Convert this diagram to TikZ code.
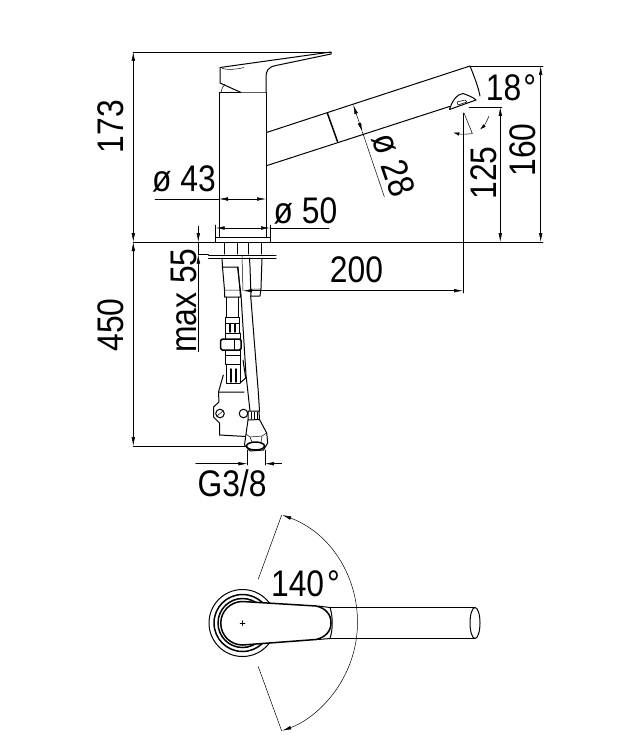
\documentclass[tikz,border=0pt]{standalone}
\usepackage{fontspec}
\setmainfont[FakeStretch=0.86]{Liberation Sans}
\usetikzlibrary{arrows.meta}

\begin{document}
\begin{tikzpicture} [
						x=1pt, y=-1pt,
						line cap=round, line join=round,
						dimline/.style={line width=0.5pt, {Latex[length=9pt,width=3.6pt]}-{Latex[length=9pt,width=3.6pt]}},
						oneway/.style={line width=0.5pt, -{Latex[length=9pt,width=3.6pt]}},
						shortway/.style={line width=0.5pt, -{Latex[length=6pt,width=3.4pt]}},
						extline/.style={line width=0.5pt},
						outline/.style={line width=1pt},
						heavy/.style={line width=1.5pt},
						dimtext/.style={inner sep=0pt, font=\fontsize{37}{38}\selectfont}
					]
\useasboundingbox (0,0) rectangle (626,751);

% faucet body and lever
\draw[outline] (219,93) rectangle (266,237);
\draw[outline] (215,237) rectangle (270,242);
\draw[outline, fill=white] (241,92.5) -- (220,83) -- (220,67.5) -- (331,52) -- (331,54) -- (276,65.5)
	.. controls (268,67) and (266,71) .. (266,77) -- (266,92.5);
\draw[extline] (221,92.5) .. controls (222,88) and (223,86) .. (225,84);
\draw[extline] (222,68.5) .. controls (229,70) and (236,69.5) .. (244,67.5);

% spout
\draw[outline] (266.5,132.5) -- (470,66) .. controls (474,76) and (478,86) .. (480,96);
\draw[outline] (266.5,165.7) -- (449.5,106.5);
\draw[heavy] (327.5,113.5) -- (337.5,141.5);
\draw[outline] (449.5,109.5) .. controls (452,101) and (457,94) .. (463,93.5)
	.. controls (467,95) and (473,97) .. (476,100) -- (449.5,109.5);
\draw[extline] (458,105) -- (457,102) -- (465,100) -- (467,102) -- cycle;

% fittings under the flange
\draw[outline] (224.5,243) -- (224.5,254) (237.5,243) -- (237.5,254)
	(248,243) -- (248,254) (261,243) -- (261,254);
\draw[outline] (208.5,255.5) -- (276,255.5) (208.5,258) -- (276,258);
\draw[outline] (222,258) -- (222.5,267) -- (224.5,290) -- (224.5,297) -- (240.5,297) -- (238,267) -- (222,267);
\draw[outline] (249.5,258) -- (250,267) -- (251,296) -- (260,296) -- (261,288) -- (262,258);
\draw[extline] (224.5,290) -- (239.5,290) (251,289) -- (261,289) (242,256) -- (243,291);
\draw[outline] (226.7,297) -- (226.7,317) (238.3,297) -- (238.3,317);
\draw[outline] (225.7,317) rectangle (239.3,333);
\draw[extline] (225.7,323) -- (239.3,323);
\draw[heavy] (230,324) -- (230,332) (235,324) -- (235,332);
\draw[outline] (225.7,333) -- (225.7,339) (240,333) -- (240,339);
\draw[heavy, rounded corners=1.5pt, fill=white] (220.7,339) rectangle (241,350);
\draw[outline] (234,339) -- (234,350);
\draw[outline] (225.7,350) -- (225.7,364) -- (240.7,364) -- (240.7,350);
\draw[outline] (225.7,355) -- (240.7,355);
\draw[outline] (226.7,364) -- (226.7,383) (240,364) -- (240,383) (226.7,383) -- (240,383);
\draw[heavy] (231,369) -- (231,382) (236,369) -- (236,382);
\draw[outline] (223.3,375) -- (218.5,392);
\draw[outline] (243,360) -- (245.7,378) -- (240,383);

% hose
\draw[outline] (237.5,267) -- (241,295) -- (246,375) -- (250,411);
\draw[outline] (250.7,296) -- (258.3,392) -- (259.5,411);

% bracket with screws
\draw[outline, fill=white] (244,392) -- (218.5,392) -- (219,402) -- (213.5,407) -- (213.5,417) -- (219.5,423) -- (219.5,435) -- (246,436.5);
\draw[outline] (220,413.5) circle (4.3);
\draw[extline] (217,416) -- (223,411);
\draw[outline] (243.5,413.5) circle (4.3);

% hose nut
\draw[outline, fill=white] (248,420) -- (248,411) -- (259,411) -- (259.5,420);
\draw[extline] (251,412) -- (251,419) (254,412) -- (254,419) (257,412) -- (257,419);
\draw[outline, fill=white] (248,420) -- (259.5,419.5) -- (266.7,433) -- (267.7,443) -- (263.5,450) -- (250,451) -- (244.5,445) -- (246,434) -- cycle;
\draw[extline] (246,434) -- (250,437) -- (262,436) -- (266.7,433) (250,437) -- (252,442) (262,436) -- (261,442);
\draw[heavy] (255.5,446) ellipse (9 and 4);

% top view
\draw[outline] (242.5,623) circle (33.5);
\draw[heavy] (242.5,623) circle (28.5);
\draw[heavy] (242.5,623) circle (24.5);
\draw[outline] (330,607.5) -- (475,607.5) (330,638.5) -- (475,638.5);
\draw[outline] (475,623) ellipse (5 and 15.5);
\draw[outline] (318,606) -- (330,607.5) .. controls (333,617) and (333,629) .. (330,638.5) -- (318,639.5);
\draw[heavy, fill=white] (242.5,601.5) -- (316,606)
	.. controls (326,608) and (331,615) .. (331,622.5)
	.. controls (331,631) and (326,637) .. (316,639.5) -- (242.5,645)
	arc[start angle=270, end angle=90, x radius=21.75, y radius=-21.75];
\draw[extline] (240,623) -- (245,623) (242.5,620.5) -- (242.5,625.5);

% dimension points
\coordinate (top left) at (133,52);
\coordinate (top right) at (331,52);
\coordinate (base left) at (133,242);
\coordinate (base right) at (543,242);
\coordinate (low left) at (133,446);
\coordinate (tip) at (470,66);
\coordinate (tip right) at (543,66);

\draw[extline] (top left) -- (top right);
\draw[extline] (base left) -- (base right);
\draw[extline] (low left) -- (245,446);
\draw[extline] (tip) -- (tip right);
\draw[dimline] (133.3,52) -- (133.3,242);
\draw[dimline] (133.3,242) -- (133.3,446);
\draw[dimline] (540.7,66) -- (540.7,242);
\draw[extline] (469,107) -- (502,107);
\draw[dimline] (500.3,107) -- (500.3,242);

% diameters
\draw[dimline] (219,199) -- (266,199);
\draw[extline] (155,199) -- (219,199);
\draw[extline] (215.7,225) -- (215.7,237) (270,225) -- (270,237);
\draw[dimline] (215.7,228) -- (270,228);
\draw[extline] (270,228) -- (329,228);
\draw[dimline] (353.3,105) -- (362.3,131.7);
\draw[extline] (362.3,131.7) -- (384.3,196.7);

% max 55
\draw[oneway] (198.3,226) -- (198.3,242);
\draw[extline] (198.3,242) -- (198.3,255);
\draw[oneway] (198.3,351.7) -- (198.3,254.5);
\draw[extline] (198.3,254.5) -- (208.5,254.5);

% 200 and G3/8
\draw[dimline] (243,290.7) -- (463,290.7);
\draw[extline] (463,113) -- (463,293);
\draw[extline] (247.3,450) -- (247.3,465) (265,450) -- (265,465);
\draw[oneway] (195.7,463.7) -- (247.3,463.7);
\draw[oneway] (281.7,463.7) -- (265,463.7);

% 18 degrees
\draw[extline] (464,113) -- (472.3,133.5);
\draw[shortway] (472.3,133.6) .. controls (466,134.4) and (459,134) .. (453.3,132.6);
\draw[shortway] (489,116) .. controls (487,121) and (484,126) .. (480,129.5);

% 140 degrees
\draw[dimline] (282.3,515) arc[start angle=69.7, end angle=-69.7, x radius=115, y radius=-115];
\draw[extline] (258.3,579) -- (281.7,515) (258.3,666.7) -- (281.7,731);

% labels
\node (d43) [dimtext] at (184,179) {ø 43};
\node (d50) [dimtext] at (305.5,211) {ø 50};
\node (d28) [dimtext, rotate=-71] at (393.5,165) {ø 28};
\node (h173) [dimtext, rotate=90] at (110.5,126.5) {173};
\node (h450) [dimtext, rotate=90] at (110.5,325) {450};
\node (max55) [dimtext, rotate=90] at (183.5,300.5) {max 55};
\node (h125) [dimtext, rotate=90] at (484,173) {125};
\node (h160) [dimtext, rotate=90] at (522.5,150) {160};
\node (a18) [dimtext] at (511,88) {18\kern2pt°};
\node (w200) [dimtext] at (356.5,270) {200};
\node (g38) [dimtext] at (232,483.5) {G3/8};
\node (a140) [dimtext] at (305.5,583.5) {140\kern3pt°};
\end{tikzpicture}
\end{document}
